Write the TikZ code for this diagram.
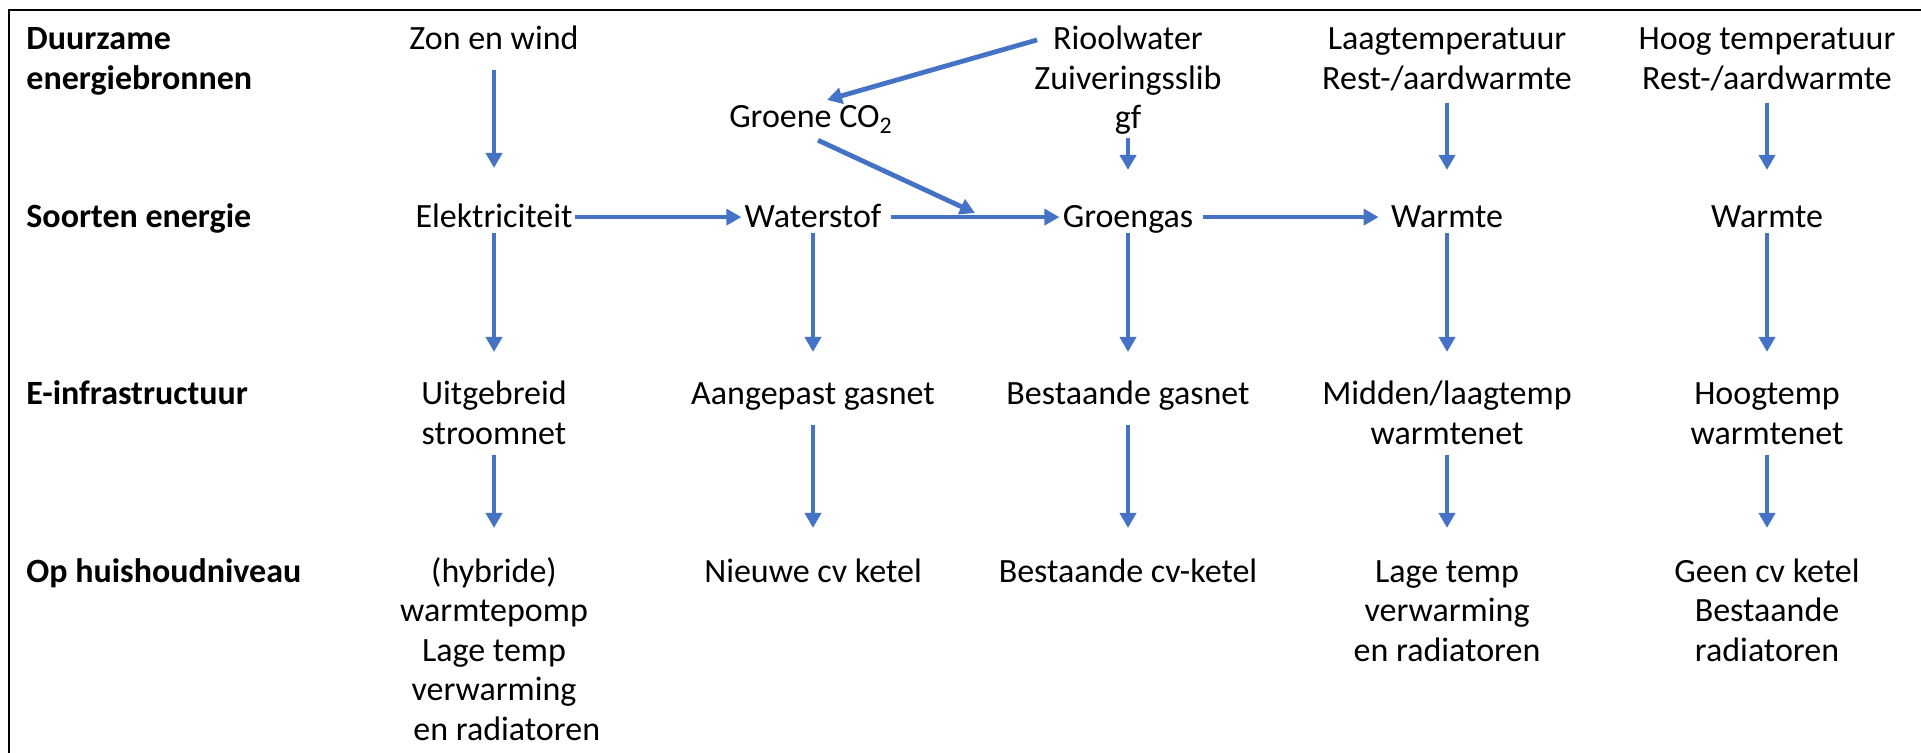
\documentclass[tikz,border=0pt]{standalone}
\usepackage{fontspec}
\setmainfont{Carlito}
\usetikzlibrary{arrows.meta}
\definecolor{flowblue}{HTML}{4472C4}
\newcommand{\blk}[1]{\begin{tabular}[t]{@{}c@{}}#1\end{tabular}}
\newcommand{\lblk}[1]{\begin{tabular}[t]{@{}l@{}}#1\end{tabular}}

\begin{document}
\begin{tikzpicture}
[
x=0.5pt, y=-0.5pt,
rowlbl/.style={anchor=base west, inner sep=0pt, font=\fontsize{17}{19.75}\selectfont\bfseries},
item/.style={anchor=base, inner sep=0pt, font=\fontsize{17}{19.75}\selectfont},
flow/.style={draw=flowblue, fill=flowblue, line width=2.4pt, -{Triangle[length=7.5pt,width=8pt]}},
]
\useasboundingbox (0,0) rectangle (1921,753);
\draw [line width=1pt] (1921,10) -- (9,10) -- (9,753);

% row labels
\node (r1) [rowlbl] at (26,50) {\lblk{Duurzame\\energiebronnen}};
\node (r2) [rowlbl] at (26,228) {\lblk{Soorten energie}};
\node (r3) [rowlbl] at (26,405) {\lblk{E-infrastructuur}};
\node (r4) [rowlbl] at (26,582) {\lblk{Op huishoudniveau}};

% bronnen
\node (zw) [item] at (494,50) {\blk{Zon en wind}};
\node (rw) [item] at (1128,50) {\blk{Rioolwater\\Zuiveringsslib\\gf}};
\node (lt) [item] at (1447,50) {\blk{Laagtemperatuur\\Rest-/aardwarmte}};
\node (ht) [item] at (1767,50) {\blk{Hoog temperatuur\\Rest-/aardwarmte}};
\node (gc) [item] at (811,128) {\blk{Groene CO\textsubscript{2}}};

% soorten energie
\node (el) [item] at (494,228) {\blk{Elektriciteit}};
\node (ws) [item] at (813,228) {\blk{Waterstof}};
\node (gg) [item] at (1128,228) {\blk{Groengas}};
\node (wa1) [item] at (1447,228) {\blk{Warmte}};
\node (wa2) [item] at (1767,228) {\blk{Warmte}};
\coordinate (co2in) at (975,213);

% infrastructuur
\node (sn) [item] at (494,405) {\blk{Uitgebreid\\stroomnet}};
\node (ag) [item] at (813,405) {\blk{Aangepast gasnet}};
\node (bg) [item] at (1128,405) {\blk{Bestaande gasnet}};
\node (mw) [item] at (1447,405) {\blk{Midden/laagtemp\\warmtenet}};
\node (hw) [item] at (1767,405) {\blk{Hoogtemp\\warmtenet}};

% huishoudniveau
\node (hp) [item] at (494,582) {\blk{(hybride)\\warmtepomp\\Lage temp\\verwarming\\\hspace*{0.75em}en radiatoren}};
\node (nk) [item] at (813,582) {\blk{Nieuwe cv ketel}};
\node (bk) [item] at (1128,582) {\blk{Bestaande cv-ketel}};
\node (lr) [item] at (1447,582) {\blk{Lage temp\\verwarming\\en radiatoren}};
\node (gk) [item] at (1767,582) {\blk{Geen cv ketel\\Bestaande\\radiatoren}};

% pijlen
\draw [flow, shorten <=4pt, shorten >=16pt] (zw.south) -- (el.north);
\draw [flow, shorten <=-1.5pt, shorten >=15pt] (rw.south) -- (gg.north);
\draw [flow, shorten <=0.5pt, shorten >=15pt] (lt.south) -- (wa1.north);
\draw [flow, shorten <=0.5pt, shorten >=15pt] (ht.south) -- (wa2.north);
\draw [flow, shorten <=1pt, shorten >=1.5pt] ([yshift=1.5pt]el.east) -- ([yshift=1.5pt]ws.west);
\draw [flow, shorten <=4.5pt, shorten >=1.5pt] ([yshift=1.5pt]ws.east) -- ([yshift=1.5pt]gg.west);
\draw [flow, shorten <=4.5pt, shorten >=6pt] ([yshift=1.5pt]gg.east) -- ([yshift=1.5pt]wa1.west);
\draw [flow] ([xshift=1.5pt,yshift=-9pt]rw.north west) -- ([xshift=8pt]gc.north);
\draw [flow] ([xshift=3.5pt]gc.south) -- (co2in);
\draw [flow, shorten <=-3.5pt, shorten >=12.5pt] (el.south) -- (sn.north);
\draw [flow, shorten <=-3.5pt, shorten >=12.5pt] (ws.south) -- (ag.north);
\draw [flow, shorten <=-3.5pt, shorten >=12.5pt] (gg.south) -- (bg.north);
\draw [flow, shorten <=-3.5pt, shorten >=12.5pt] (wa1.south) -- (mw.north);
\draw [flow, shorten <=-3.5pt, shorten >=12.5pt] (wa2.south) -- (hw.north);
\draw [flow, shorten <=-1pt, shorten >=13pt] (sn.south) -- (hp.north);
\draw [flow, shorten <=4pt, shorten >=13pt] (ag.south) -- (nk.north);
\draw [flow, shorten <=4pt, shorten >=13pt] (bg.south) -- (bk.north);
\draw [flow, shorten <=-1pt, shorten >=13pt] (mw.south) -- (lr.north);
\draw [flow, shorten <=-1pt, shorten >=13pt] (hw.south) -- (gk.north);
\end{tikzpicture}
\end{document}
